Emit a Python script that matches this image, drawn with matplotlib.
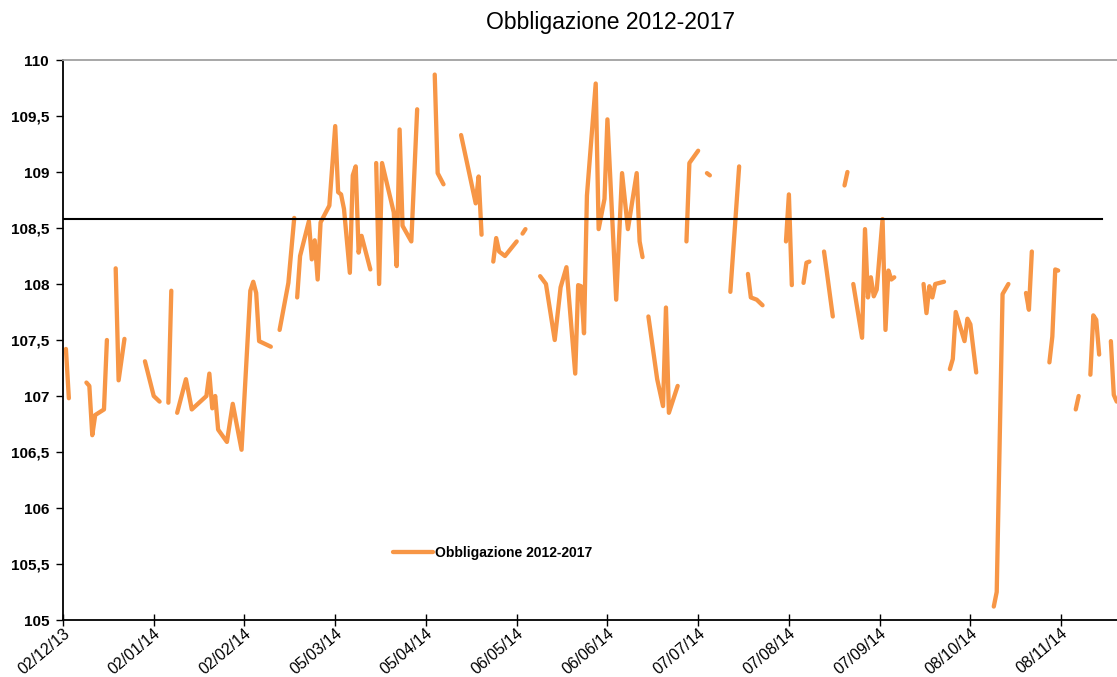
import numpy as np
import pandas as pd
from matplotlib import pyplot as plt
from matplotlib.ticker import FuncFormatter
from matplotlib.transforms import ScaledTranslation

plt.rcParams['font.family'] = ['Liberation Sans', 'DejaVu Sans']

title = 'Obbligazione 2012-2017'
series_name = 'Obbligazione 2012-2017'
start = pd.Timestamp('2013-12-02')
ref_level = 108.58
ref_span = [0, 355]

nan = np.nan
# days since 02/12/13, nan = gap in the series
day_offset = [1, 2, nan,
              8, 9, 10, 11, 14, 15, nan,
              18, 19, 21, nan,
              28, 31, 33, nan,
              36, 37, nan,
              39, 42, 44, 49, 50, 51, 52, 53, 56, 58, 61, 64, 65, 66, 67, 71, nan,
              74, 77, 79, nan,
              80, 81, 84, 85, 86, 87, 88, 91, 93, 94, 95, 96, 98, 99, 100, 101, 102, 105, nan,
              107, 108, 109, 113, 114, 115, 116, 119, 121, nan,
              127, 128, 130, nan,
              136, 141, 142, 143, nan,
              147, 148, 149, 151, 155, nan,
              157, 158, nan,
              163, 165, 168, 170, 172, 175, 176, 177, 178, 179, 182, 183, 185, 186, 189, 191, 193, 196, 197, 198, nan,
              200, 203, 205, 206, 207, 210, nan,
              213, 214, 217, nan,
              220, 221, nan,
              228, 231, nan,
              234, 235, 237, 239, nan,
              247, 248, 249, nan,
              253, 254, 255, nan,
              260, 261, 263, nan,
              267, 268, nan,
              270, 273, 274, 275, 276, 277, 278, 280, 281, 282, 283, 284, nan,
              294, 295, 296, 297, 298, 301, nan,
              303, 304, 305, 308, 309, 310, 312, nan,
              318, 319, 321, 323, nan,
              329, 330, 331, nan,
              337, 338, 339, 340, nan,
              346, 347, nan,
              351, 352, 353, 354, nan,
              358, 359, 360]
price = [107.42, 106.98, nan,
         107.12, 107.09, 106.65, 106.83, 106.88, 107.50, nan,
         108.14, 107.14, 107.51, nan,
         107.31, 107.0, 106.95, nan,
         106.94, 107.94, nan,
         106.85, 107.15, 106.88, 107.0, 107.2, 106.89, 107.0, 106.7, 106.59, 106.93, 106.52, 107.94, 108.02, 107.92, 107.49, 107.44, nan,
         107.59, 108.01, 108.59, nan,
         107.88, 108.25, 108.56, 108.22, 108.39, 108.04, 108.55, 108.70, 109.41, 108.82, 108.80, 108.67, 108.10, 108.97, 109.05, 108.28, 108.43, 108.13, nan,
         109.08, 108.0, 109.08, 108.64, 108.16, 109.38, 108.52, 108.38, 109.56, nan,
         109.87, 108.99, 108.89, nan,
         109.33, 108.72, 108.96, 108.44, nan,
         108.20, 108.41, 108.29, 108.25, 108.38, nan,
         108.45, 108.49, nan,
         108.07, 108.0, 107.50, 107.97, 108.15, 107.20, 107.99, 107.98, 107.56, 108.79, 109.79, 108.49, 108.76, 109.47, 107.86, 108.99, 108.49, 108.99, 108.38, 108.24, nan,
         107.71, 107.15, 106.91, 107.79, 106.85, 107.09, nan,
         108.38, 109.08, 109.19, nan,
         108.99, 108.97, nan,
         107.93, 109.05, nan,
         108.09, 107.88, 107.86, 107.81, nan,
         108.38, 108.80, 107.99, nan,
         108.01, 108.19, 108.20, nan,
         108.29, 108.10, 107.71, nan,
         108.88, 109.0, nan,
         108.0, 107.52, 108.49, 107.88, 108.06, 107.89, 107.95, 108.58, 107.59, 108.12, 108.04, 108.06, nan,
         108.0, 107.74, 107.98, 107.88, 108.0, 108.02, nan,
         107.24, 107.33, 107.75, 107.49, 107.69, 107.64, 107.21, nan,
         105.12, 105.25, 107.91, 108.0, nan,
         107.92, 107.77, 108.29, nan,
         107.30, 107.53, 108.13, 108.12, nan,
         106.88, 107.0, nan,
         107.19, 107.72, 107.68, 107.37, nan,
         107.49, 107.01, 106.95]

tick_days = [31 * k for k in range(12)]
tick_labels = [(start + pd.Timedelta(days=d)).strftime('%d/%m/%y') for d in tick_days]
y_ticks = np.arange(105, 110.01, 0.5)

W, H = 1117, 677
fig = plt.figure(figsize=(W / 100, H / 100), dpi=100)
ax = fig.add_axes([63 / W, 1 - 620 / H, (W - 63) / W, 560 / H])

ax.plot(day_offset, price, color='#F79646', lw=3.1, solid_capstyle='round',
        solid_joinstyle='round', label=series_name)
ax.plot(ref_span, [ref_level, ref_level], color='black', lw=1.5)

ax.set_xlim(0, (W - 63) / 2.927)
ax.set_ylim(105, 110)
ax.set_xticks(tick_days)
ax.set_xticklabels(tick_labels, rotation=40, ha='right', va='top',
                   rotation_mode='anchor', fontsize=11.5)
shift = ScaledTranslation(5 / 100, 0, fig.dpi_scale_trans)
for t in ax.get_xticklabels():
    t.set_transform(t.get_transform() + shift)
ax.set_yticks(y_ticks)
ax.yaxis.set_major_formatter(FuncFormatter(lambda v, p: f'{v:g}'.replace('.', ',')))
for t in ax.get_yticklabels():
    t.set_fontweight('bold')
    t.set_fontsize(11)
ax.tick_params(axis='x', direction='inout', length=8, width=1, pad=0)
ax.tick_params(axis='y', direction='out', length=5, width=1, pad=5)

ax.spines['left'].set_linewidth(1.3)
ax.spines['bottom'].set_linewidth(1.3)
ax.spines['top'].set_color('#a0a0a0')
ax.spines['top'].set_linewidth(1.3)
ax.spines['right'].set_visible(False)

fig.text(611 / W, 1 - 22 / H, title, ha='center', va='center', fontsize=16.5)

leg = ax.legend(loc='center left', bbox_to_anchor=(380 / W, 1 - 553 / H),
                bbox_transform=fig.transFigure, frameon=False,
                handlelength=2.9, handletextpad=0.15,
                prop={'weight': 'bold', 'size': 10})

fig.savefig('out.png', dpi=100)
